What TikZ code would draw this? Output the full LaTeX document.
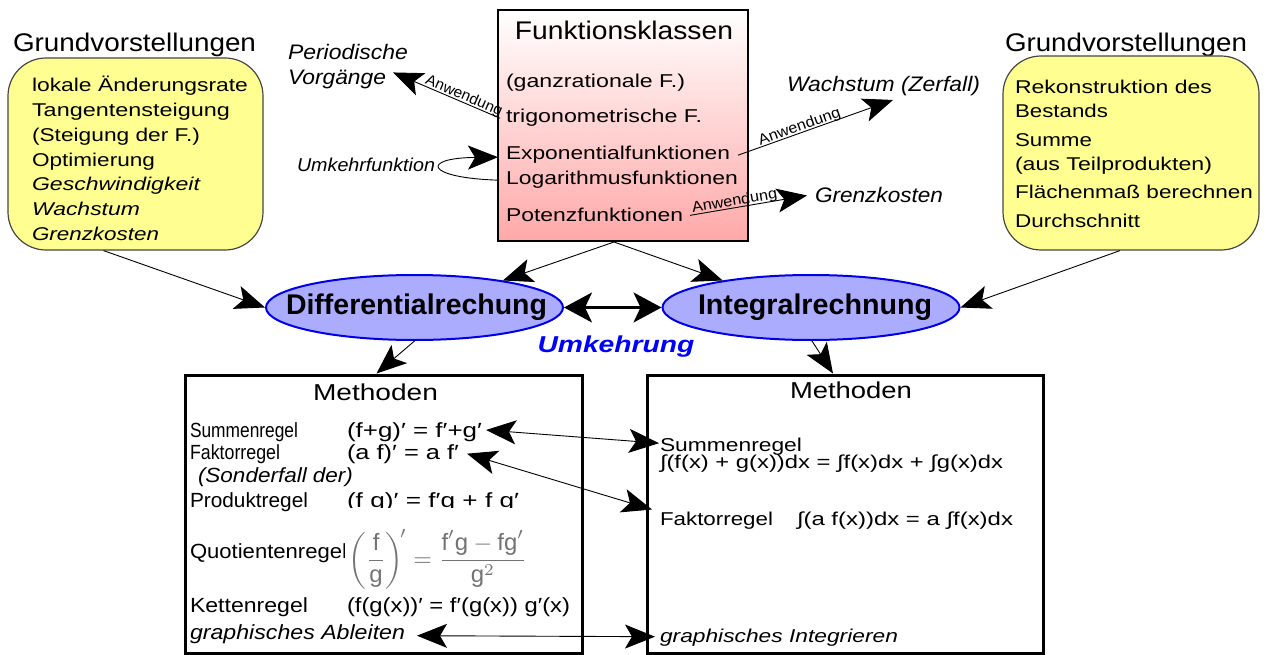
\documentclass[tikz,border=0pt]{standalone}
\usepackage{fontspec}
\setmainfont{Liberation Sans}
\usepackage{amsmath}
\usepackage{graphicx}
\usetikzlibrary{arrows.meta,shapes.geometric,shadings}
\definecolor{ylw}{RGB}{255,255,145}
\definecolor{ylwb}{RGB}{70,70,70}
\definecolor{pinkb}{RGB}{255,168,168}
\definecolor{ellf}{RGB}{172,172,255}
\definecolor{ellb}{RGB}{0,0,230}
\definecolor{umk}{RGB}{0,0,255}
\newcommand{\fs}[1]{\fontsize{#1}{#1}\selectfont}
\newcommand{\W}[2]{\resizebox{#1pt}{\height}{#2}}
\begin{document}
\begin{tikzpicture}[x=1pt,y=-1pt,
  >={Stealth[length=30pt,width=24pt,inset=7pt]},
  txt/.style={inner sep=0pt,outer sep=0pt,anchor=base west},
  ctxt/.style={inner sep=0pt,outer sep=0pt,anchor=base},
  ybox/.style={draw=ylwb,line width=1.2pt,fill=ylw,rounded corners=38pt,inner sep=0pt},
  mbox/.style={draw=black,line width=3pt,inner sep=0pt,minimum width=#1,minimum height=278.5},
  ell/.style={ellipse,draw=ellb,line width=2pt,fill=ellf,inner sep=0pt,minimum width=297,minimum height=65},
  etext/.style={inner sep=0pt,font=\fs{28.5}\bfseries},
  arr/.style={->,line width=0.9pt},
  darr/.style={<->,line width=0.9pt},
  tharr/.style={{Stealth[length=28pt,width=30pt,inset=7pt]}-{Stealth[length=28pt,width=30pt,inset=7pt]},line width=2.2pt},
  lab/.style={font=\fs{15},sloped,above=-1.5pt,inner sep=0pt},
  ytext/.style={txt,font=\fs{18.5}},
  ftext/.style={txt,font=\fs{18.6}},
  ltext/.style={txt,font=\fs{20.5}},
  rtext/.style={txt,font=\fs{18.6}},
  ]
\useasboundingbox (0,0) rectangle (1268,655);

% ---------- left Grundvorstellungen ----------
\node[txt,font=\fs{25.5}] (gvL) at (13,51.5) {\W{243}{Grundvorstellungen}};
\node[ybox,minimum width=255,minimum height=192] (yL) at (135.5,154) {};
\node[ytext] (l1) at (32,92) {\W{216}{lokale Änderungsrate}};
\node[ytext] (l2) at (32,116.7) {\W{198}{Tangentensteigung}};
\node[ytext] (l3) at (32,141.4) {\W{168}{(Steigung der F.)}};
\node[ytext] (l4) at (32,166.1) {\W{123}{Optimierung}};
\node[ytext] (l5) at (32,190.8) {\W{168}{\itshape Geschwindigkeit}};
\node[ytext] (l6) at (32,215.5) {\W{108}{\itshape Wachstum}};
\node[ytext] (l7) at (32,240.2) {\W{127}{\itshape Grenzkosten}};

% ---------- right Grundvorstellungen ----------
\node[txt,font=\fs{25.5}] (gvR) at (1005,51.5) {\W{242}{Grundvorstellungen}};
\node[ybox,minimum width=256,minimum height=194] (yR) at (1131,153) {};
\node[ytext] (r1) at (1015,94) {\W{197}{Rekonstruktion des}};
\node[ytext] (r2) at (1015,117.5) {\W{93}{Bestands}};
\node[ytext] (r3) at (1015,147) {\W{77}{Summe}};
\node[ytext] (r4) at (1015,170.5) {\W{197}{(aus Teilprodukten)}};
\node[ytext] (r5) at (1015,198) {\W{238}{Flächenmaß berechnen}};
\node[ytext] (r6) at (1015,227) {\W{125}{Durchschnitt}};

% ---------- Funktionsklassen ----------
\node[draw=black,line width=2pt,top color=white,bottom color=pinkb,inner sep=0pt,minimum width=250,minimum height=231] (fk) at (623,125.5) {};
\node[ctxt,font=\fs{25.5}] (fkT) at (624,40) {\W{218}{Funktionsklassen}};
\node[ftext] (f1) at (506,88) {\W{179}{(ganzrationale F.)}};
\node[ftext] (f2) at (506,123) {\W{196}{trigonometrische F.}};
\node[ftext] (f3) at (506,160) {\W{224}{Exponentialfunktionen}};
\node[ftext] (f4) at (506,185) {\W{232}{Logarithmusfunktionen}};
\node[ftext] (f5) at (506,222) {\W{177}{Potenzfunktionen}};

% ---------- applications ----------
\node[txt,font=\fs{21}\itshape] (per1) at (288,60) {\W{120}{Periodische}};
\node[txt,font=\fs{21}\itshape] (per2) at (288,85) {\W{98}{Vorgänge}};
\node[txt,font=\fs{18.6}\itshape] (umf) at (297,172) {\W{138}{Umkehrfunktion}};
\node[txt,font=\fs{21}\itshape] (wach) at (787,92) {\W{193}{Wachstum (Zerfall)}};
\node[txt,font=\fs{21}\itshape] (grenz) at (815,203) {\W{128}{Grenzkosten}};

\draw[arr] ([xshift=-6pt]f2.west) -- ([xshift=7pt,yshift=7.5pt]per2.east)
  node[lab,pos=0.36] (an1) {\W{82}{Anwendung}};
\draw[arr] ([xshift=8pt]f3.east) -- ([xshift=9.5pt,yshift=-3.6pt]wach.south)
  node[lab,pos=0.41] (an2) {\W{86}{Anwendung}};
\draw[arr] ([xshift=7pt]f5.east) -- ([xshift=-8pt]grenz.west)
  node[lab,pos=0.39] (an3) {\W{86}{Anwendung}};
\draw[arr] ([xshift=-7pt]f4.west) .. controls (425,178) and (420,158) .. ([xshift=-8pt,yshift=-2pt]f3.west);

% ---------- ellipses ----------
\node[ell] (diff) at (414.5,307.5) {};
\node[etext] (diffT) at (416.5,307.5) {\W{261}{Differentialrechung}};
\node[ell] (int) at (811,307.5) {};
\node[etext] (intT) at (815,307.5) {\W{234}{Integralrechnung}};
\node[ctxt,font=\fs{23}\bfseries\itshape,text=umk] (umk) at (616,352) {\W{157}{Umkehrung}};

\draw[arr] ([xshift=-9pt]fk.south) -- (diff.17);
\draw[arr] ([xshift=-9pt]fk.south) -- (int.163);
\draw[arr] ([xshift=-32pt]yL.south) -- (diff.west);
\draw[arr] ([xshift=-11pt]yR.south) -- (int.east);
\draw[tharr] (diff.east) -- (int.west);

% ---------- Methoden boxes ----------
\node[mbox=397] (methL) at (383.5,514.25) {};
\node[mbox=396] (methR) at (845,514.25) {};
\draw[arr] (diff.south) -- ([xshift=-7pt]methL.north);
\draw[arr] ([xshift=1pt]int.south) -- ([xshift=-12pt]methR.north);

\node[ctxt,font=\fs{23}] (mtL) at (375.5,400) {\W{125}{Methoden}};
\node[ctxt,font=\fs{23}] (mtR) at (851,398) {\W{122}{Methoden}};

\node[ltext] (sumL) at (190,437) {\W{108}{Summenregel}};
\node[ltext] (fgL) at (347,437) {\W{135}{(f+g)′ = f′+g′}};
\node[ltext] (fakL) at (190,459) {\W{90}{Faktorregel}};
\node[ltext] (afL) at (347,459) {\W{112}{(a f)′ = a f′}};
\node[ltext] (sond) at (198,482) {\W{155}{\itshape (Sonderfall der)}};
\node[ltext] (prodL) at (190,507) {\W{118}{Produktregel}};
\node[ltext] (prodF) at (347,507) {\W{172}{(f g)′ = f′g + f g′}};
\node[ltext] (quotL) at (190,558) {\W{157}{Quotientenregel}};
\node[fill=white,inner sep=0pt,minimum width=185,minimum height=84,anchor=north west] (qbg) at (345,508) {};
\node[inner sep=0pt,text=black!55] (quot) at (438,559)
  {\resizebox*{178pt}{60pt}{$\displaystyle\left(\frac{\text{f}}{\text{g}}\right)^{\!\prime} = \frac{\text{f}'\text{g} - \text{fg}'}{\text{g}^{2}}$}};
\node[ltext] (kettL) at (190,612) {\W{118}{Kettenregel}};
\node[ltext] (kettF) at (347,612) {\W{223}{(f(g(x))′ = f′(g(x)) g′(x)}};
\node[ltext] (gAbl) at (190,639) {\W{215}{\itshape graphisches Ableiten}};

\node[rtext] (sumR) at (660,451) {\W{142}{Summenregel}};
\node[rtext] (intR) at (660,468) {\W{343}{∫(f(x) + g(x))dx = ∫f(x)dx + ∫g(x)dx}};
\node[rtext] (fakR) at (660,525) {\W{113}{Faktorregel}};
\node[rtext] (fakF) at (797,525) {\W{216}{∫(a f(x))dx = a ∫f(x)dx}};
\node[rtext] (gInt) at (660,642) {\W{238}{\itshape graphisches Integrieren}};

\draw[darr] ([xshift=4pt,yshift=1.7pt]fgL.east) -- ([xshift=-1pt,yshift=3pt]sumR.west);
\draw[darr] ([xshift=8pt]afL.east) -- ([xshift=-8pt,yshift=2pt]fakR.north west);
\draw[darr] ([xshift=12pt,yshift=-2pt]gAbl.east) -- ([xshift=-5pt,yshift=0.5pt]gInt.west);
\end{tikzpicture}
\end{document}
